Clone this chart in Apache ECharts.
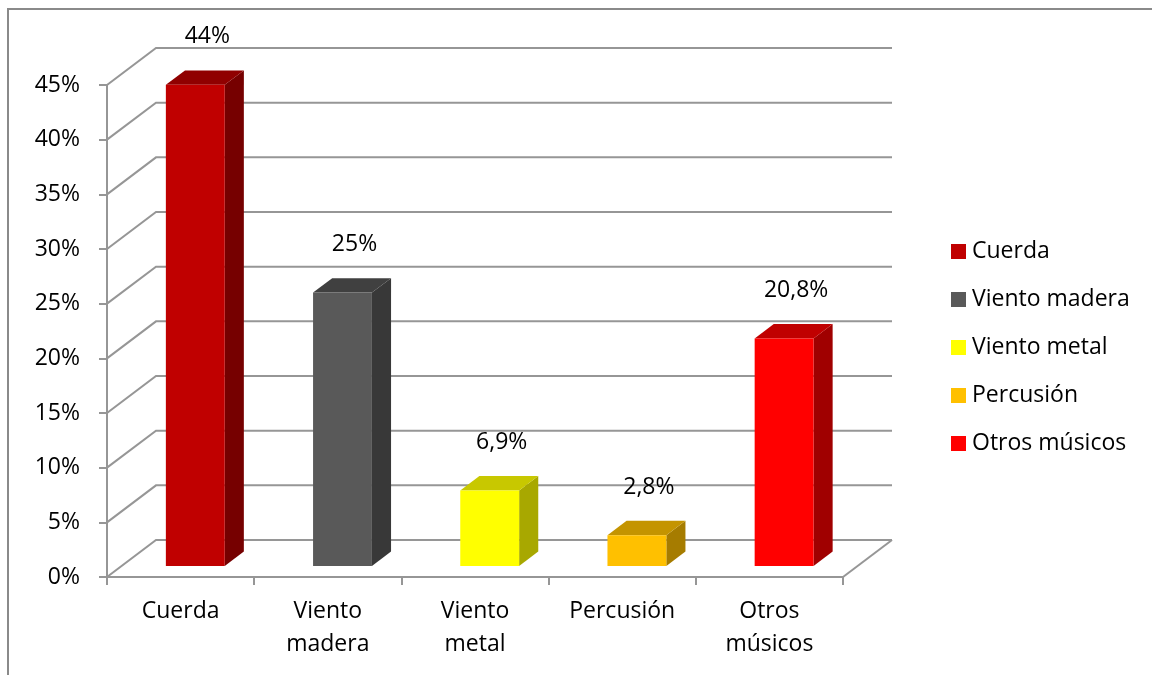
<!DOCTYPE html>
<html><head><meta charset="utf-8">
<script src="https://cdn.jsdelivr.net/npm/echarts@6/dist/echarts.min.js"></script>
<style>html,body{margin:0;padding:0;background:#fff}#c{width:1152px;height:675px}</style>
</head><body><div id="c"></div>
<script>
// ---- data ----
const categories = ['Cuerda', 'Viento madera', 'Viento metal', 'Percusión', 'Otros músicos'];
const values = [44, 25, 6.9, 2.8, 20.8];
const yTicks = [0, 5, 10, 15, 20, 25, 30, 35, 40, 45];

// ---- styles ----
const frontColors = ['#C00000', '#595959', '#FFFF00', '#FFC000', '#FF0000'];
const topColors   = ['#900000', '#404040', '#C8C800', '#C49400', '#C00000'];
const sideColors  = ['#760000', '#383838', '#A8A800', '#A67C00', '#A00000'];
const DX = 49, DY = -37, F1 = 0.3, F2 = 0.69;
const FONT = '"Open Sans", "Liberation Sans", sans-serif';
const FS = 23;
const GRID_COLOR = '#969696';

function fmt(v) { return String(v).replace('.', ',') + '%'; }

function renderWalls(params, api) {
  const cs = params.coordSys;
  const v = api.value(1);
  const y = api.coord([0, v])[1];
  const L = cs.x, R = cs.x + cs.width;
  const children = [{
    type: 'polyline',
    shape: { points: [[L, y], [L + DX, y + DY], [R + DX, y + DY]] },
    style: { stroke: GRID_COLOR, lineWidth: 2, fill: 'none' }
  }];
  if (v === 0) {
    children.push({ type: 'line', shape: { x1: R, y1: y, x2: R + DX, y2: y + DY },
      style: { stroke: GRID_COLOR, lineWidth: 2 } });
  }
  return { type: 'group', children };
}

function renderBar(params, api) {
  const i = api.value(0), v = api.value(1);
  const c0 = api.coord([i, 0]), c1 = api.coord([i, v]);
  const w = api.size([1, 0])[0] * 0.4;
  const cx = c0[0] + F1 * DX;
  const xl = cx - w / 2, xr = cx + w / 2;
  const yb = c0[1] + F1 * DY, yt = c1[1] + F1 * DY;
  const ddx = (F2 - F1) * DX, ddy = (F2 - F1) * DY;
  return {
    type: 'group',
    children: [
      { type: 'polygon', shape: { points: [[xr, yt], [xr + ddx, yt + ddy], [xr + ddx, yb + ddy], [xr, yb]] },
        style: { fill: sideColors[i] } },
      { type: 'polygon', shape: { points: [[xl, yt], [xr, yt], [xr + ddx, yt + ddy], [xl + ddx, yt + ddy]] },
        style: { fill: topColors[i] } },
      { type: 'rect', shape: { x: xl, y: yt, width: w, height: yb - yt },
        style: { fill: frontColors[i] } },
      { type: 'text', style: { text: fmt(v), x: cx + 12, y: yt - 48, align: 'center', verticalAlign: 'middle',
        fontSize: FS, fontFamily: FONT, fill: '#000' } }
    ]
  };
}

const chart = echarts.init(document.getElementById('c'), null, { renderer: 'canvas' });
chart.setOption({
  animation: false,
  backgroundColor: '#fff',
  graphic: [{
    type: 'polyline', silent: true,
    shape: { points: [[8, 680], [8, 9], [1160, 9]] },
    style: { stroke: '#8a8a8a', lineWidth: 2, fill: 'none' }
  }],
  grid: { left: 107, right: 309, top: 85, bottom: 98, containLabel: false },
  legend: {
    data: categories, orient: 'vertical', left: 951, top: 240, padding: 0,
    icon: 'rect', itemWidth: 15, itemHeight: 15, itemGap: 25,
    textStyle: { fontSize: FS, lineHeight: 23, fontFamily: FONT, color: '#000', padding: [0, 0, 0, 1] }
  },
  xAxis: {
    type: 'category', data: categories, boundaryGap: true,
    axisLine: { show: true, lineStyle: { color: GRID_COLOR, width: 2 } },
    axisTick: { show: true, length: 8, interval: 0, alignWithLabel: false, lineStyle: { color: GRID_COLOR, width: 2 } },
    axisLabel: { interval: 0, fontSize: FS, lineHeight: 33, margin: 18, color: '#000', fontFamily: FONT,
      formatter: v => v.replace(' ', '\n') },
    splitLine: { show: false }
  },
  yAxis: {
    type: 'value', min: 0, max: 45, interval: 5,
    axisLine: { show: true, lineStyle: { color: GRID_COLOR, width: 2 } },
    axisTick: { show: true, length: 8, lineStyle: { color: GRID_COLOR, width: 2 } },
    axisLabel: { fontSize: FS, margin: 27, color: '#000', fontFamily: FONT, formatter: '{value}%' },
    splitLine: { show: false }
  },
  series: [
    { type: 'custom', name: 'walls', silent: true, z: 1, renderItem: renderWalls,
      encode: { x: 0, y: 1 }, data: yTicks.map(t => [0, t]) }
  ].concat(categories.map((name, i) => ({
    type: 'custom', name, z: 3, renderItem: renderBar,
    encode: { x: 0, y: 1 }, itemStyle: { color: frontColors[i] },
    data: [[i, values[i]]]
  })))
});
</script>
</body></html>
